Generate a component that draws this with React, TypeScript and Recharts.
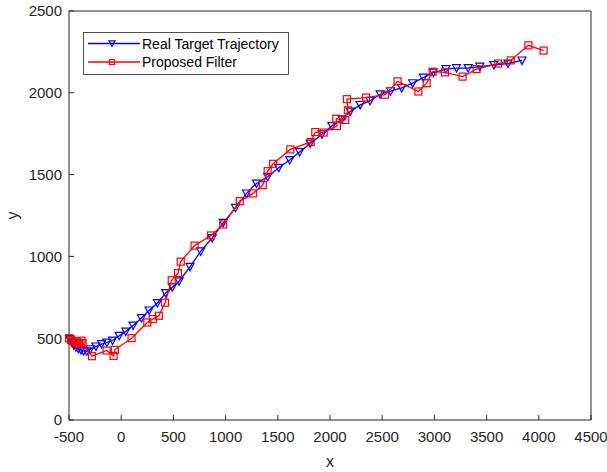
import React from "react"
import {
  ScatterChart,
  Scatter,
  XAxis,
  YAxis,
  Legend,
} from "recharts"

// x / y values
const realX = [
  -495, -475, -455, -433, -410, -385, -360, -330, -296, -242, -188, -137, -83, -19, 44, 114, 194,
  267, 347, 426, 490, 554, 659, 761, 872, 977, 1095, 1200, 1296, 1403, 1509, 1614, 1709, 1811,
  1923, 2018, 2114, 2193, 2289, 2384, 2480, 2580, 2687, 2792, 2894, 2989, 3110, 3212, 3323, 3435,
  3570, 3705, 3839,
]
const realY = [
  495, 475, 458, 445, 435, 428, 422, 420, 433, 450, 464, 474, 486, 515, 541, 578, 623, 670, 715,
  776, 812, 848, 936, 1031, 1113, 1205, 1297, 1385, 1446, 1487, 1542, 1589, 1638, 1690, 1746, 1797,
  1838, 1885, 1926, 1951, 1991, 2010, 2030, 2059, 2093, 2124, 2145, 2151, 2151, 2160, 2170, 2179,
  2198,
]

const filterX = [
  -500, -480, -460, -440, -420, -400, -380, -370, -280, -140, -73, -61, 99, 250, 302, 361, 420, 484,
  544, 570, 703, 860, 977, 1136, 1264, 1356, 1403, 1455, 1620, 1815, 1859, 1939, 2066, 2060, 2146,
  2171, 2162, 2346, 2528, 2647, 2846, 2926, 2983, 3101, 3270, 3404, 3610, 3731, 3900, 4046,
]
const filterY = [
  500, 490, 482, 470, 478, 465, 485, 470, 390, 425, 392, 429, 500, 596, 617, 637, 717, 854, 898,
  968, 1066, 1128, 1195, 1338, 1385, 1436, 1521, 1566, 1654, 1700, 1760, 1757, 1797, 1842, 1834,
  1893, 1961, 1971, 1988, 2070, 2008, 2059, 2129, 2125, 2099, 2145, 2179, 2198, 2290, 2258,
]

const xTicks = [-500, 0, 500, 1000, 1500, 2000, 2500, 3000, 3500, 4000, 4500]
const yTicks = [0, 500, 1000, 1500, 2000, 2500]

const realData = realX.map((x, i) => ({ x, y: realY[i] }))
const filterData = filterX.map((x, i) => ({ x, y: filterY[i] }))

const FONT = '"Liberation Sans", Arial, Helvetica, sans-serif'
const AXIS = "#262626"

function Triangle({ cx, cy, color, r = 4 }: any) {
  return (
    <polygon
      points={`${cx - r},${cy - r * 0.85} ${cx + r},${cy - r * 0.85} ${cx},${cy + r}`}
      fill="none"
      stroke={color}
      strokeWidth={1.2}
    />
  )
}

function Square({ cx, cy, color, r = 3.5 }: any) {
  return <rect x={cx - r} y={cy - r} width={2 * r} height={2 * r} fill="none" stroke={color} strokeWidth={1.2} />
}

function LegendBox() {
  return (
    <svg width={206} height={43} style={{ display: "block", overflow: "visible" }}>
      <rect x={0.5} y={0.5} width={205} height={42} fill="#fff" stroke={AXIS} strokeWidth={0.8} />
      <line x1={5} x2={57} y1={11.5} y2={11.5} stroke="#0000ff" strokeWidth={1.3} />
      <Triangle cx={29} cy={11.5} color="#0000ff" r={3} />
      <text x={59} y={16.5} fontSize={14} fontFamily={FONT} fill="#000">
        Real Target Trajectory
      </text>
      <line x1={5} x2={57} y1={30} y2={30} stroke="#ff0000" strokeWidth={1.3} />
      <Square cx={29} cy={30} color="#ff0000" r={2.5} />
      <text x={59} y={35} fontSize={14} fontFamily={FONT} fill="#000">
        Proposed Filter
      </text>
    </svg>
  )
}

export default function App() {
  return (
    <div style={{ position: "absolute", left: 0, top: 0, background: "#fff" }}>
      <ScatterChart width={607} height={472} margin={{ top: 10, right: 15, bottom: 0, left: 0 }}>
        <XAxis
          type="number"
          dataKey="x"
          domain={[-500, 4500]}
          ticks={xTicks}
          height={52}
          tickSize={-5}
          tickMargin={16}
          interval={0}
          stroke={AXIS}
          tick={{ fill: AXIS, fontSize: 15, fontFamily: FONT }}
          label={{ value: "x", position: "insideBottom", offset: 5, fill: AXIS, fontSize: 16, fontFamily: FONT }}
        />
        <XAxis
          xAxisId="top"
          orientation="top"
          type="number"
          domain={[-500, 4500]}
          ticks={xTicks}
          height={1}
          tickSize={-5}
          interval={0}
          stroke={AXIS}
          tick={false}
        />
        <YAxis
          type="number"
          dataKey="y"
          domain={[0, 2500]}
          ticks={yTicks}
          width={69}
          tickSize={-5}
          tickMargin={12}
          interval={0}
          stroke={AXIS}
          tick={{ fill: AXIS, fontSize: 15, fontFamily: FONT }}
          label={{
            value: "y",
            angle: -90,
            position: "insideLeft",
            offset: 12,
            textAnchor: "middle",
            fill: AXIS,
            fontSize: 16,
            fontFamily: FONT,
          }}
        />
        <YAxis
          yAxisId="right"
          orientation="right"
          type="number"
          domain={[0, 2500]}
          ticks={yTicks}
          width={1}
          tickSize={-5}
          interval={0}
          stroke={AXIS}
          tick={false}
        />
        <Legend
          layout="vertical"
          align="center"
          verticalAlign="middle"
          content={() => <LegendBox />}
          wrapperStyle={{ position: "absolute", left: 83, top: 32, width: 206, height: 43 }}
        />
        <Scatter
          name="Real Target Trajectory"
          data={realData}
          line={{ stroke: "#0000ff", strokeWidth: 1.3 }}
          lineType="joint"
          shape={(p: any) => <Triangle cx={p.cx} cy={p.cy} color="#0000ff" />}
          isAnimationActive={false}
        />
        <Scatter
          name="Proposed Filter"
          data={filterData}
          line={{ stroke: "#ff0000", strokeWidth: 1.3 }}
          lineType="joint"
          shape={(p: any) => <Square cx={p.cx} cy={p.cy} color="#ff0000" />}
          isAnimationActive={false}
        />
      </ScatterChart>
    </div>
  )
}
